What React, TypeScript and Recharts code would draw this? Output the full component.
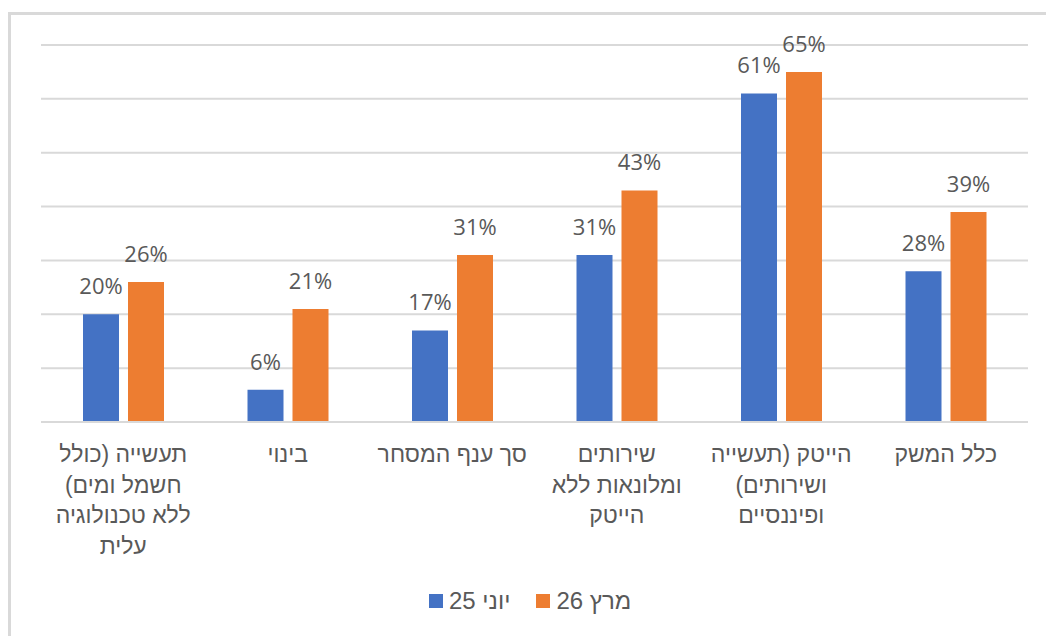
import React from 'react';
import { BarChart, Bar, XAxis, YAxis, CartesianGrid, LabelList } from 'recharts';

const categories = [
  'תעשייה (כולל|חשמל ומים)|ללא טכנולוגיה|עלית',
  'בינוי',
  'סך ענף המסחר',
  'שירותים|ומלונאות ללא|הייטק',
  'הייטק (תעשייה|ושירותים)|ופיננסיים',
  'כלל המשק',
];
const june25 = [20, 6, 17, 31, 61, 28];
const march26 = [26, 21, 31, 43, 65, 39];
const yTicks = [0, 10, 20, 30, 40, 50, 60, 70];
const seriesNames = ['יוני 25', 'מרץ 26'];

const data = categories.map((name, i) => ({ name, june25: june25[i], march26: march26[i] }));

const FONT = '"Open Sans", "Liberation Sans", "DejaVu Sans", sans-serif';
const HEB_FONT = '"Liberation Sans", "Open Sans", sans-serif';
const TEXT = '#595959';
const BLUE = '#4472C4';
const ORANGE = '#ED7D31';

const CategoryTick = ({ x, y, payload }: any) => {
  const lines = String(payload.value).split('|');
  return (
    <text x={x} y={y} textAnchor="middle" fill={TEXT} fontSize={23} fontFamily={HEB_FONT} direction="rtl">
      {lines.map((l, i) => (
        <tspan key={i} x={x} y={y + 32 + i * 30.5} direction="rtl" style={{ unicodeBidi: 'plaintext' } as any}>
          {l}
        </tspan>
      ))}
    </text>
  );
};

const pct = (v: any) => `${v}%`;

export default function App() {
  return (
    <div style={{ position: 'relative', width: 1046, height: 636, background: '#fff', overflow: 'hidden' }}>
      <style>{'body{margin:0}'}</style>
      <div
        style={{
          position: 'absolute',
          left: 8,
          top: 12,
          width: 1060,
          height: 640,
          border: '3px solid #d9d9d9',
          boxSizing: 'border-box',
        }}
      />
      <div style={{ position: 'absolute', left: 0, top: 0 }}>
        <BarChart
          width={1046}
          height={636}
          data={data}
          margin={{ top: 45, right: 18, left: 41, bottom: 64 }}
          barSize={36}
          barGap={9}
        >
          <CartesianGrid vertical={false} stroke="#d9d9d9" strokeWidth={2} />
          <YAxis hide domain={[0, 70]} ticks={yTicks} />
          <XAxis
            dataKey="name"
            height={150}
            interval={0}
            axisLine={{ stroke: '#d9d9d9', strokeWidth: 2 }}
            tickLine={false}
            tick={<CategoryTick />}
          />
          <Bar dataKey="june25" fill={BLUE} isAnimationActive={false}>
            <LabelList dataKey="june25" position="top" offset={20} formatter={pct} fill={TEXT} fontSize={22} fontFamily={FONT} />
          </Bar>
          <Bar dataKey="march26" fill={ORANGE} isAnimationActive={false}>
            <LabelList dataKey="march26" position="top" offset={20} formatter={pct} fill={TEXT} fontSize={22} fontFamily={FONT} />
          </Bar>
        </BarChart>
      </div>
      <div
        style={{
          position: 'absolute',
          left: 429,
          top: 587,
          display: 'flex',
          alignItems: 'center',
          fontFamily: HEB_FONT,
          fontSize: 24,
          color: TEXT,
          direction: 'ltr',
        }}
      >
        {[BLUE, ORANGE].map((c, i) => (
          <div key={i} style={{ display: 'flex', alignItems: 'center', marginRight: 26 }}>
            <span style={{ display: 'inline-block', width: 14, height: 14, background: c, marginRight: 6 }} />
            <span dir="rtl">{seriesNames[i]}</span>
          </div>
        ))}
      </div>
    </div>
  );
}
